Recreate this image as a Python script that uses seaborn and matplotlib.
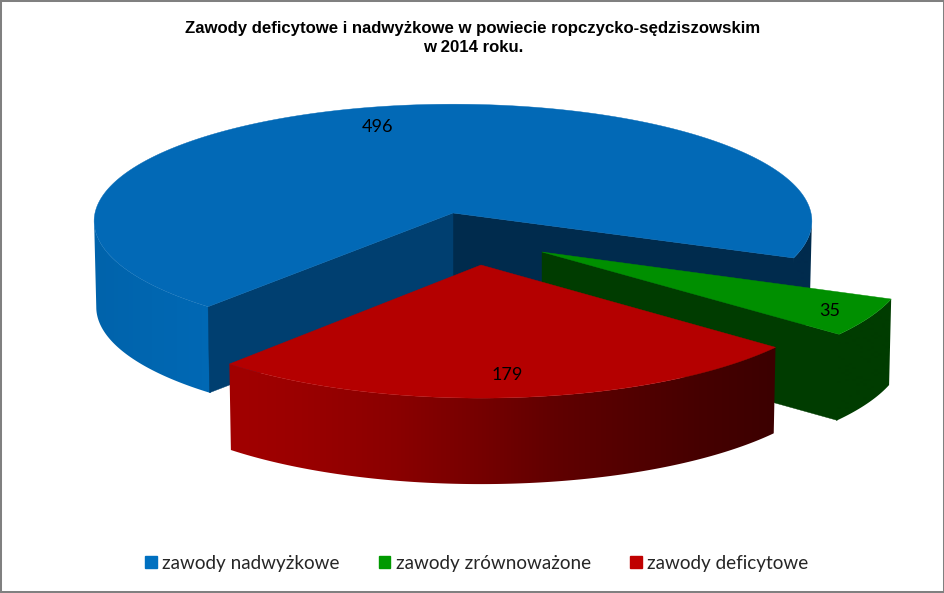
import numpy as np
import matplotlib
matplotlib.use("Agg")
import matplotlib.pyplot as plt
from matplotlib.colors import to_rgb
from matplotlib.patches import Patch, Polygon
import seaborn as sns

# ---- data -------------------------------------------------------------
categories = ["zawody nadwyżkowe", "zawody zrównoważone", "zawody deficytowe"]
values = [496, 35, 179]
title_lines = ["Zawody deficytowe i nadwyżkowe w powiecie ropczycko-sędziszowskim",
               "w 2014 roku."]

# ---- style --------------------------------------------------------------
sns.set_theme(style="white")
palette = sns.color_palette(["#0269b6", "#008f00", "#b40000"])
legend_palette = sns.color_palette(["#0070c0", "#009a00", "#c00000"])

START_ANGLE = -22.0
APEX = [(453, 213), (542, 252), (481, 265)]
RADII_X = [358.0, 363.0, 360.0]
RADII_Y = [117.0, 121.0, 121.0]
PERSP = [0.07, 0.10, 0.10]
DEPTH = 86.0
OVERLAP = 0.25
LABEL_XY = [(377, 127), (830, 311), (507, 375)]

# angles of slices: blue counter-clockwise from the start, then red, then green
order = [0, 2, 1]
spans = {}
a = START_ANGLE
for i in order:
    sweep = 360.0 * values[i] / sum(values)
    spans[i] = (a, a + sweep)
    a += sweep


def project(i, theta_deg, depth=0.0):
    t = np.radians(theta_deg)
    s = 1 + PERSP[i] * (-np.sin(t))
    shrink = 1 - 0.006 * depth / DEPTH
    x = APEX[i][0] + RADII_X[i] * np.cos(t) * s * shrink
    y = APEX[i][1] - RADII_Y[i] * np.sin(t) * s + depth
    return x, y


def arc_pts(i, a0, a1, depth=0.0, n=240):
    th = np.linspace(a0, a1, n)
    x, y = project(i, th, depth)
    return np.column_stack([x, y])


def extreme_angle(i, a0, a1, side):
    """Angle where the rim is tangent to a vertical line (silhouette of the wall)."""
    th = np.linspace(a0, a1, 2000)
    x, _ = project(i, th)
    return th[np.argmax(side * x)]


def outer_wall(ax, i, a0, a1, stops, z):
    top = arc_pts(i, a0, a1)
    bot = arc_pts(i, a0, a1, DEPTH)
    outline = np.vstack([top, bot[::-1]])
    xs = np.linspace(0, 945, 946)
    cols = np.array([to_rgb(c) for _, c in stops])
    pos = [p for p, _ in stops]
    grad = np.column_stack([np.interp(xs / 945, pos, cols[:, k]) for k in range(3)])
    poly = Polygon(outline, closed=True, fc="none", ec="none", transform=ax.transData)
    ax.add_patch(poly)
    im = ax.imshow(grad[np.newaxis, :, :], extent=(0, 945, 593, 0), aspect="auto",
                   interpolation="bilinear", zorder=z)
    im.set_clip_path(poly)


def side_wall(ax, i, theta, color, z):
    ex, ey = project(i, theta)
    bx, by = project(i, theta, DEPTH)
    ax0, ay0 = APEX[i]
    ax.add_patch(Polygon([(ax0, ay0), (ex, ey), (bx, by), (ax0, ay0 + DEPTH)],
                         closed=True, fc=color, ec=color, lw=0.3, zorder=z))


def top_face(ax, i, z):
    a0, a1 = spans[i]
    pts = np.vstack([[APEX[i]], arc_pts(i, a0, a1)])
    ax.add_patch(Polygon(pts, closed=True, fc=palette[i], ec=palette[i], lw=0.3, zorder=z))


fig = plt.figure(figsize=(9.45, 5.93), dpi=100, facecolor="white")
ax = fig.add_axes([0, 0, 1, 1])
ax.set_xticks([])
ax.set_yticks([])
for sp in ax.spines.values():
    sp.set_color("#808080")
    sp.set_linewidth(2.9)

# blue slice
b0, b1 = spans[0]
outer_wall(ax, 0, b0 - OVERLAP, extreme_angle(0, b0, 60, 1),
           [(0, "#002b4d"), (1, "#002b4d")], 1)
side_wall(ax, 0, b0, "#002b4d", 2)
outer_wall(ax, 0, extreme_angle(0, 120, b1, -1), b1 + OVERLAP,
           [(0.10, "#0063ab"), (0.16, "#0066b0"), (0.24, "#0069b6")], 1)
side_wall(ax, 0, b1, "#003f70", 3)
top_face(ax, 0, 4)

# green slice
g0, g1 = spans[1]
outer_wall(ax, 1, g0 - OVERLAP, g1, [(0, "#003c00"), (1, "#003c00")], 5)
side_wall(ax, 1, g0, "#003c00", 5.5)
top_face(ax, 1, 6)

# red slice
r0, r1 = spans[2]
outer_wall(ax, 2, r0, r1, [(0.244, "#a20000"), (0.32, "#9a0000"), (0.42, "#8a0000"),
                           (0.51, "#750000"), (0.59, "#600000"), (0.74, "#460000"),
                           (0.82, "#3c0000")], 7)
top_face(ax, 2, 8)

ax.set_xlim(0, 945)
ax.set_ylim(593, 0)

# value labels
for v, (lx, ly) in zip(values, LABEL_XY):
    ax.text(lx, ly, str(v), ha="center", va="center", fontsize=13,
            family="Lato", color="black", zorder=10)

# title
ax.text(473, 28.5, title_lines[0], ha="center", va="center", fontsize=12.08,
        family="Liberation Sans", weight="bold", color="black", zorder=10)
ax.text(473.5, 47.5, title_lines[1], ha="center", va="center", fontsize=12.08,
        family="Liberation Sans", weight="bold", color="black", zorder=10)

# legend
handles = [Patch(fc=c, ec=c, label=l) for c, l in zip(legend_palette, categories)]
leg = ax.legend(handles=handles, ncol=3, frameon=False, loc="center",
                bbox_to_anchor=(477 / 945, 1 - 563 / 593),
                prop={"family": "Lato", "size": 13.6},
                handlelength=0.6, handleheight=0.6, handletextpad=0.3,
                columnspacing=2.07, borderpad=0, borderaxespad=0)

fig.savefig("out.png", dpi=100, facecolor="white")
